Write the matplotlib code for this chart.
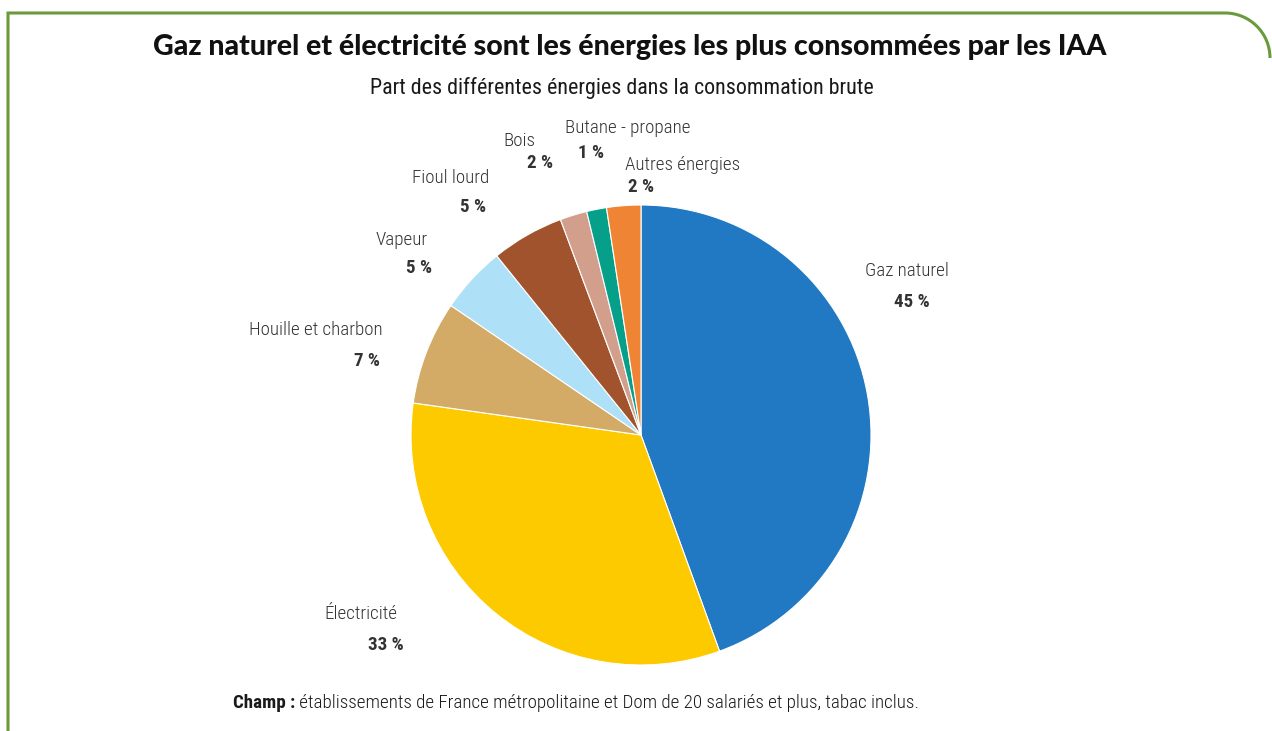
import matplotlib
matplotlib.use('Agg')
import matplotlib.pyplot as plt
from matplotlib import font_manager
from matplotlib.path import Path
from matplotlib.patches import PathPatch

# data
categories = ['Gaz naturel', 'Électricité', 'Houille et charbon', 'Vapeur',
              'Fioul lourd', 'Bois', 'Butane - propane', 'Autres énergies']
shares = [44.5, 32.8, 7.3, 4.7, 5.1, 1.9, 1.4, 2.4]
pct_labels = ['45 %', '33 %', '7 %', '5 %', '5 %', '2 %', '1 %', '2 %']
colors = ['#2079c2', '#fdca00', '#d4aa67', '#aee0f8',
          '#a0532c', '#d29f8c', '#06a08a', '#ef8434']

title = 'Gaz naturel et électricité sont les énergies les plus consommées par les IAA'
subtitle = 'Part des différentes énergies dans la consommation brute'
note_bold = 'Champ :'
note_text = ' établissements de France métropolitaine et Dom de 20 salariés et plus, tabac inclus.'

names = {f.name for f in font_manager.fontManager.ttflist}
narrow = 'DejaVu Sans'
for cand in ['Roboto Condensed', 'Liberation Sans Narrow', 'Open Sans Condensed', 'Lato']:
    if cand in names:
        narrow = cand
        break
heavy = 'Lato' if 'Lato' in names else 'DejaVu Sans'

W, H = 1272, 731
fig = plt.figure(figsize=(W / 100, H / 100), dpi=100)
fig.patch.set_facecolor('white')

# pie axes: centre (641, 435) px, radius 230 px
cx, cy, r = 641, 435, 230
ax = fig.add_axes([(cx - r) / W, (H - cy - r) / H, 2 * r / W, 2 * r / H])
ax.pie(shares, colors=colors, startangle=90, counterclock=False,
       wedgeprops=dict(edgecolor='white', linewidth=0.8))
ax.set_xlim(-1, 1)
ax.set_ylim(-1, 1)
ax.set_aspect('equal')
ax.axis('off')

# label anchors in pixels (name, percent)
label_px = [((907, 271), (912, 302)), ((361, 614), (386, 645)),
            ((316, 330), (367, 361)), ((402, 240), (419, 268)),
            ((451, 178), (473, 207)), ((519, 141), (540, 163)),
            ((628, 128), (591, 153)), ((683, 165), (641, 187))]


def to_data(p):
    return (p[0] - cx) / r, (cy - p[1]) / r


for name, pct, (pn, pp) in zip(categories, pct_labels, label_px):
    ax.text(*to_data(pn), name, ha='center', va='center', fontsize=13.7,
            family=narrow, weight='light', color='#333333', clip_on=False)
    ax.text(*to_data(pp), pct, ha='center', va='center', fontsize=13.7,
            family=narrow, weight='bold', color='#333333', clip_on=False)

fig.text(630 / W, 1 - 47 / H, title, ha='center', va='center', fontsize=20.5,
         family=heavy, weight=900, color='#111111')
fig.text(622 / W, 1 - 88 / H, subtitle, ha='center', va='center', fontsize=15.8,
         family=narrow, color='#1a1a1a')

t = fig.text(233 / W, 1 - 703 / H, note_bold, ha='left', va='center',
             fontsize=13.7, family=narrow, weight='bold', color='#1a1a1a')
fig.canvas.draw()
bb = t.get_window_extent()
fig.text(bb.x1 / W, 1 - 703 / H, note_text, ha='left', va='center',
         fontsize=13.7, family=narrow, weight='light', color='#1a1a1a')

# green frame with rounded top-right corner
k = 0.5523
rad = 45
x0, y0, x1 = 8, 13, 1225
pts = [(x0, H + 5), (x0, y0), (x1, y0),
       (x1 + k * rad, y0), (x1 + rad, y0 + rad - k * rad), (x1 + rad, y0 + rad)]
codes = [Path.MOVETO, Path.LINETO, Path.LINETO, Path.CURVE4, Path.CURVE4, Path.CURVE4]
verts = [(x / W, 1 - y / H) for x, y in pts]
fig.patches.append(PathPatch(Path(verts, codes), transform=fig.transFigure,
                             fill=False, edgecolor='#6a9a3c', linewidth=2.2))

fig.savefig('out.png', dpi=100)
